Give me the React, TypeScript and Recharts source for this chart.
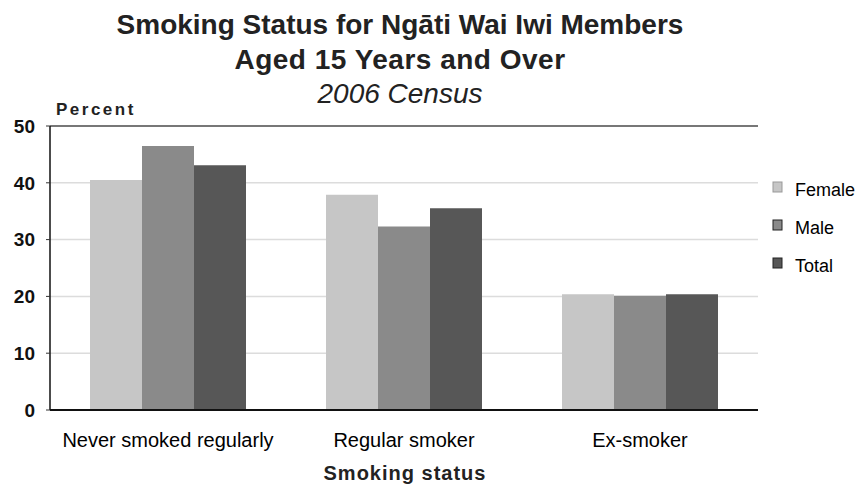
import React from 'react';
import { BarChart, Bar, XAxis, YAxis, CartesianGrid, ReferenceLine } from 'recharts';

// Smoking status categories and percentages by sex
const categories = ['Never smoked regularly', 'Regular smoker', 'Ex-smoker'];
const female = [40.5, 37.9, 20.4];
const male = [46.5, 32.3, 20.1];
const total = [43.1, 35.5, 20.4];
const yTicks = [0, 10, 20, 30, 40, 50];

const seriesNames = ['Female', 'Male', 'Total'];
const seriesColors = ['#c6c6c6', '#8a8a8a', '#575757'];

const titleLines = ['Smoking Status for Ngāti Wai Iwi Members', 'Aged 15 Years and Over', '2006 Census'];
const yAxisTitle = 'Percent';
const xAxisTitle = 'Smoking status';

const data = categories.map((status, i) => ({
  status,
  Female: female[i],
  Male: male[i],
  Total: total[i],
}));

const FONT = '"Liberation Sans", Arial, sans-serif';

const CategoryTick = (props: any) => {
  const { x, y, payload } = props;
  return (
    <text x={x} y={y + 37} textAnchor="middle" fontFamily={FONT} fontSize={20} fill="#000">
      {payload.value}
    </text>
  );
};

export default function App() {
  return (
    <div style={{ position: 'absolute', left: 0, top: 0, width: 862, height: 486, background: '#fff' }}>
      <BarChart
        width={862}
        height={486}
        data={data}
        margin={{ top: 126, right: 104, bottom: 46, left: 0 }}
        barCategoryGap={40}
        barGap={0}
      >
        <CartesianGrid vertical={false} stroke="#dcdcdc" strokeWidth={1.5} />
        <XAxis
          dataKey="status"
          height={30}
          tickLine={false}
          tickSize={0}
          tickMargin={0}
          axisLine={{ stroke: '#111', strokeWidth: 2 }}
          tick={<CategoryTick />}
          interval={0}
        />
        <YAxis
          width={50}
          domain={[0, 50]}
          ticks={yTicks}
          interval={0}
          tickSize={4}
          tickMargin={11}
          tickLine={{ stroke: '#333' }}
          axisLine={{ stroke: '#111', strokeWidth: 1.5 }}
          tick={{ fontFamily: FONT, fontSize: 19, fontWeight: 'bold', fill: '#111' }}
        />
        <YAxis
          yAxisId="right"
          orientation="right"
          width={0}
          domain={[0, 50]}
          tick={false}
          tickLine={false}
          axisLine={{ stroke: '#222', strokeWidth: 1.5 }}
        />
        <ReferenceLine y={50} stroke="#777" strokeWidth={2} />
        {seriesNames.map((name, i) => (
          <Bar key={name} dataKey={name} fill={seriesColors[i]} isAnimationActive={false} />
        ))}
      </BarChart>
      <svg
        width={862}
        height={486}
        style={{ position: 'absolute', left: 0, top: 0, pointerEvents: 'none' }}
      >
        <text x={400} y={34} textAnchor="middle" fontFamily={FONT} fontWeight="bold" fontSize={28} fill="#222">
          {titleLines[0]}
        </text>
        <text x={400} y={69} textAnchor="middle" fontFamily={FONT} fontWeight="bold" fontSize={28} letterSpacing={0.5} fill="#222">
          {titleLines[1]}
        </text>
        <text x={400} y={103} textAnchor="middle" fontFamily={FONT} fontStyle="italic" fontSize={28} fill="#222">
          {titleLines[2]}
        </text>
        <text x={56} y={115} fontFamily={FONT} fontWeight="bold" fontSize={17} letterSpacing={2.5} fill="#222">
          {yAxisTitle}
        </text>
        <text x={405} y={480} textAnchor="middle" fontFamily={FONT} fontWeight="bold" fontSize={20} letterSpacing={1} fill="#222">
          {xAxisTitle}
        </text>
        {seriesNames.map((name, i) => (
          <g key={name}>
            <rect
              x={773}
              y={182 + i * 38}
              width={9}
              height={10}
              fill={seriesColors[i]}
              stroke={i === 0 ? '#999' : '#222'}
              strokeWidth={1}
            />
            <text x={795} y={196 + i * 38} fontFamily={FONT} fontSize={18} fill="#000">
              {name}
            </text>
          </g>
        ))}
      </svg>
    </div>
  );
}
